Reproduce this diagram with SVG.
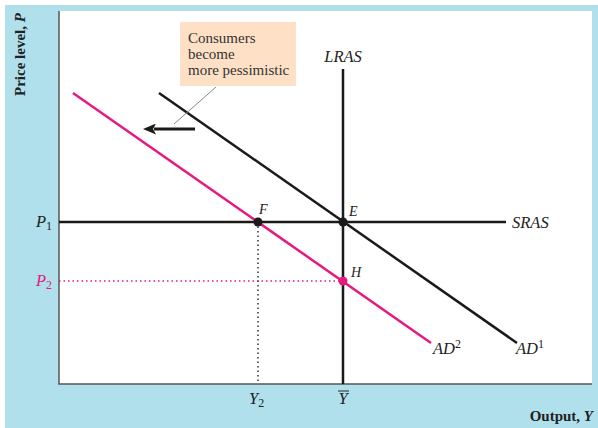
<svg xmlns="http://www.w3.org/2000/svg" width="598" height="428" viewBox="0 0 598 428">
<defs>
<style>
.ax{font-family:"Liberation Serif","DejaVu Serif",serif;font-weight:bold;font-size:15px;fill:#222}
.it{font-family:"Liberation Serif","DejaVu Serif",serif;font-style:italic;font-size:16.5px;fill:#222}
.lb{font-family:"Liberation Serif","DejaVu Serif",serif;font-style:italic;font-size:14px;fill:#222}
.cb{font-family:"Liberation Serif","DejaVu Serif",serif;font-size:15px;fill:#333}
.sub{font-style:normal;font-size:12px}
.blk{stroke:#1a1a1a;stroke-width:2.5;fill:none}
.mag{stroke:#e6197f;stroke-width:2.5;fill:none}
</style>
<marker id="ah" markerWidth="13" markerHeight="11" refX="2" refY="5.5" orient="auto" markerUnits="userSpaceOnUse" viewBox="0 0 13 11">
<path d="M0,0 L13,5.5 L0,11 L3,5.5 Z" fill="#1a1a1a"/>
</marker>
</defs>
<rect x="0" y="0" width="598" height="428" fill="#fff"/>
<rect x="5" y="5" width="593" height="423" fill="#b0e0ec"/>
<rect x="59" y="11" width="533" height="373" fill="#fff"/>
<path d="M59,11 V384 H592" stroke="#555" stroke-width="1.5" fill="none"/>
<text class="ax" transform="translate(25,96) rotate(-90)">Price level, <tspan font-style="italic">P</tspan></text>
<text class="ax" x="593" y="421" text-anchor="end">Output, <tspan font-style="italic">Y</tspan></text>
<g id="connectors">
<line class="blk" x1="343" y1="69" x2="343" y2="384"/>
<line class="blk" x1="59" y1="222" x2="506" y2="222"/>
<line class="blk" x1="159" y1="93" x2="517" y2="343"/>
<line class="mag" x1="73" y1="93" x2="431" y2="343"/>
<line x1="59" y1="281" x2="343" y2="281" stroke="#e6197f" stroke-width="1.5" stroke-dasharray="1.5,3"/>
<line x1="258" y1="222" x2="258" y2="384" stroke="#333" stroke-width="1.5" stroke-dasharray="1.5,3"/>
<line x1="195" y1="129" x2="154" y2="129" stroke="#1a1a1a" stroke-width="3" marker-end="url(#ah)"/>
<line x1="174" y1="124" x2="216" y2="87" stroke="#888" stroke-width="1"/>
</g>
<g id="callout">
<rect x="180" y="22" width="116" height="64" fill="#fde0c6"/>
<text class="cb" x="188" y="43">Consumers</text>
<text class="cb" x="188" y="59">become</text>
<text class="cb" x="188" y="75">more pessimistic</text>
</g>
<g id="LRAS"><text class="it" x="343" y="62" text-anchor="middle">LRAS</text></g>
<g id="SRAS"><text class="it" x="512" y="228">SRAS</text></g>
<g id="AD1"><text class="it" x="516" y="354">AD<tspan class="sub" dy="-6">1</tspan></text></g>
<g id="AD2"><text class="it" x="433" y="354">AD<tspan class="sub" dy="-6">2</tspan></text></g>
<g id="E"><circle cx="343" cy="222" r="4.5" fill="#1a1a1a"/><text class="lb" x="349" y="216">E</text></g>
<g id="F"><circle cx="258" cy="222" r="4.5" fill="#1a1a1a"/><text class="lb" x="259" y="214">F</text></g>
<g id="H"><circle cx="343" cy="281" r="4.5" fill="#e6197f"/><text class="lb" x="351" y="277">H</text></g>
<g id="P1"><text class="it" x="36" y="227">P<tspan class="sub" dy="3">1</tspan></text></g>
<g id="P2"><text class="it" x="36" y="286" style="fill:#e6197f">P<tspan class="sub" dy="3">2</tspan></text></g>
<g id="Y2"><text class="it" x="249" y="404">Y<tspan class="sub" dy="3">2</tspan></text></g>
<g id="Ybar"><text class="it" x="343" y="404" text-anchor="middle">Y</text><line x1="338" y1="391" x2="349" y2="391" stroke="#222" stroke-width="1"/></g>
</svg>
